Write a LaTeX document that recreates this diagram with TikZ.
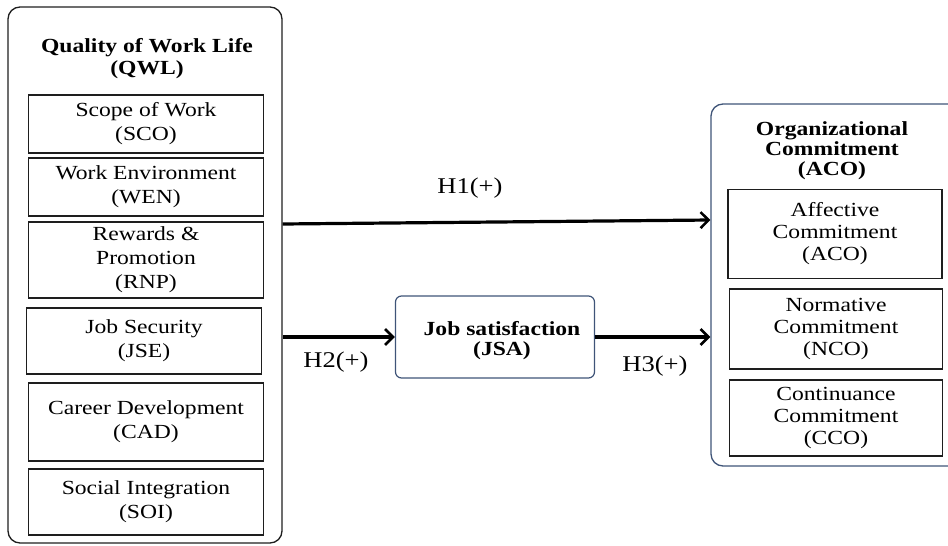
\documentclass[tikz,border=0pt]{standalone}
\usepackage{fontspec}
\setmainfont{Liberation Serif}[FakeStretch=1.18]
\usetikzlibrary{arrows.meta}
\definecolor{qwlline}{HTML}{1E1E1E}
\definecolor{acoline}{HTML}{3F5478}

\tikzset{
  groupbox/.style={draw=qwlline, line width=1.3pt, rounded corners=12pt},
  itembox/.style={draw=qwlline, line width=1.2pt, align=center, minimum width=235pt, inner sep=0pt},
  headtext/.style={align=center, font=\fontsize{20}{22}\selectfont\bfseries},
  link/.style={line width=3.2pt, -{Straight Barb[length=8pt,width=16pt,line width=2.6pt]}},
  hyplabel/.style={inner sep=0pt, font=\fontsize{22.5}{26}\selectfont}
}

\begin{document}
\begin{tikzpicture}[x=1pt, y=-1pt, font=\fontsize{20}{24}\selectfont]
            \clip (0,0) rectangle (948,546);

            % quality of work life
            \node[groupbox, minimum width=274pt, minimum height=536pt] (qwl) at (145,275) {};
            \node[headtext] (qwlhead) at (147,59) {Quality of Work Life\\(QWL)};
            \node[itembox, minimum height=58pt] (sco) at (146,124) {Scope of Work\\(SCO)};
            \node[itembox, minimum height=58pt] (wen) at (146,187) {Work Environment\\(WEN)};
            \node[itembox, minimum height=76pt] (rnp) at (146,260) {Rewards \&\\Promotion\\(RNP)};
            \node[itembox, minimum height=66pt] (jse) at (144,341) {Job Security\\(JSE)};
            \node[itembox, minimum height=78pt] (cad) at (146,422) {Career Development\\(CAD)};
            \node[itembox, minimum height=66pt] (soi) at (146,502) {Social Integration\\(SOI)};

            % job satisfaction
            \node[draw=acoline, line width=1.2pt, rounded corners=6pt, minimum width=199pt, minimum height=82pt] (jsa) at (495,337) {};
            \node[headtext, font=\fontsize{20}{20}\selectfont\bfseries] (jsahead) at (502,341) {Job satisfaction\\(JSA)};

            % organizational commitment
            \node[groupbox, draw=acoline, minimum width=250pt, minimum height=362pt] (aco) at (836,285) {};
            \node[headtext, font=\fontsize{20}{20}\selectfont\bfseries] (acohead) at (832,151) {Organizational\\Commitment\\(ACO)};
            \node[itembox, minimum width=214pt, minimum height=89pt, font=\fontsize{20}{22}\selectfont] (acoa) at (835,234) {Affective\\Commitment\\(ACO)};
            \node[itembox, minimum width=213pt, minimum height=80pt, font=\fontsize{20}{22}\selectfont] (nco) at (836,329) {Normative\\Commitment\\(NCO)};
            \node[itembox, minimum width=213pt, minimum height=76pt, font=\fontsize{20}{22}\selectfont] (cco) at (836,418) {Continuance\\Commitment\\(CCO)};

            % hypotheses
            \draw[link] ([yshift=51pt]qwl.east) -- ([yshift=65pt]aco.west);
            \draw[link] ([yshift=-62pt]qwl.east) -- (jsa.west);
            \draw[link] (jsa.east) -- (aco.west |- jsa.east);

            \node[hyplabel] (h1) at (470,188) {H1(+)};
            \node[hyplabel] (h2) at (336,362) {H2(+)};
            \node[hyplabel] (h3) at (655,366) {H3(+)};
        \end{tikzpicture}
\end{document}
